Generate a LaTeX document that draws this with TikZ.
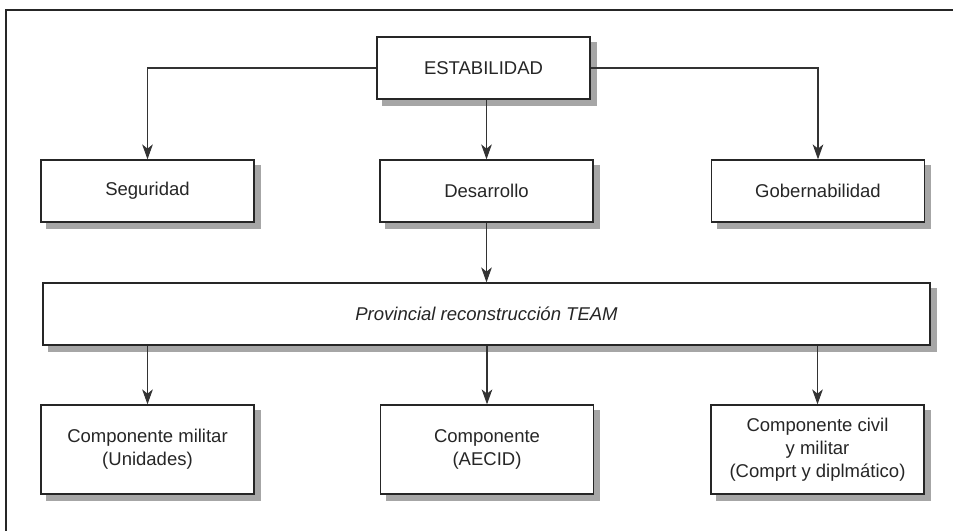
\documentclass[tikz,border=0pt]{standalone}
\usepackage{fontspec}
\setmainfont{Liberation Sans}
\usepackage{tikz}
\usetikzlibrary{calc}
\usetikzlibrary{backgrounds}
\usetikzlibrary{arrows.meta}
\usetikzlibrary{positioning}
\begin{document}
\begin{tikzpicture}[
    x=0.03cm, y=-0.03cm,
    font=\fontsize{15.8}{19.8}\selectfont,
    text=black!85
]
\tikzset{
    caja/.style = {rectangle, draw=black!85, line width=1.1pt, fill=white, align=center,
        minimum width=6.39cm, minimum height=1.86cm, inner sep=0pt},
    cajag/.style = {caja, minimum height=2.67cm},
    sombra/.style = {fill=black!35},
    flecha/.style = {-{Stealth[length=0.45cm, width=0.32cm, inset=0.13cm]}, line width=0.9pt, draw=black!80}
}
\useasboundingbox (0,0) rectangle (953,530);
\draw[line width=2.2pt, black!85] (6,540) -- (6,10) -- (960,10);
\node[caja] at (483.5,68) (estab) {ESTABILIDAD};
\node[caja] at (147.5,191) (seg) {Seguridad};
\node[caja] at (486.5,191) (des) {Desarrollo};
\node[caja] at (818,191) (gob) {Gobernabilidad};
\node[caja, minimum width=26.61cm] at (486.5,314) (prt) {\itshape Provincial reconstrucción TEAM};
\node[cajag] at (147.5,449.5) (mil) {Componente militar\\(Unidades)};
\node[cajag] at (487,449.5) (aecid) {Componente\\(AECID)};
\node[cajag] at (817.5,449.5) (civ) {Componente civil\\y militar\\(Comprt y diplmático)};
% sombras
\begin{scope}[on background layer]
\foreach \n in {estab,seg,des,gob,prt,mil,aecid,civ}
    \fill[sombra] ($(\n.north west)+(6,6)$) rectangle ($(\n.south east)+(6,6)$);
\end{scope}
\draw[flecha] (estab.west) -| (seg.north);
\draw[flecha] (estab.east) -| (gob.north);
\draw[flecha] (estab.south -| des.north) -- (des.north);
\draw[flecha] (des.south) -- (prt.north -| des.south);
\draw[flecha] (prt.south -| mil.north) -- (mil.north);
\draw[flecha] (prt.south -| aecid.north) -- (aecid.north);
\draw[flecha] (prt.south -| civ.north) -- (civ.north);
\end{tikzpicture}
\end{document}
